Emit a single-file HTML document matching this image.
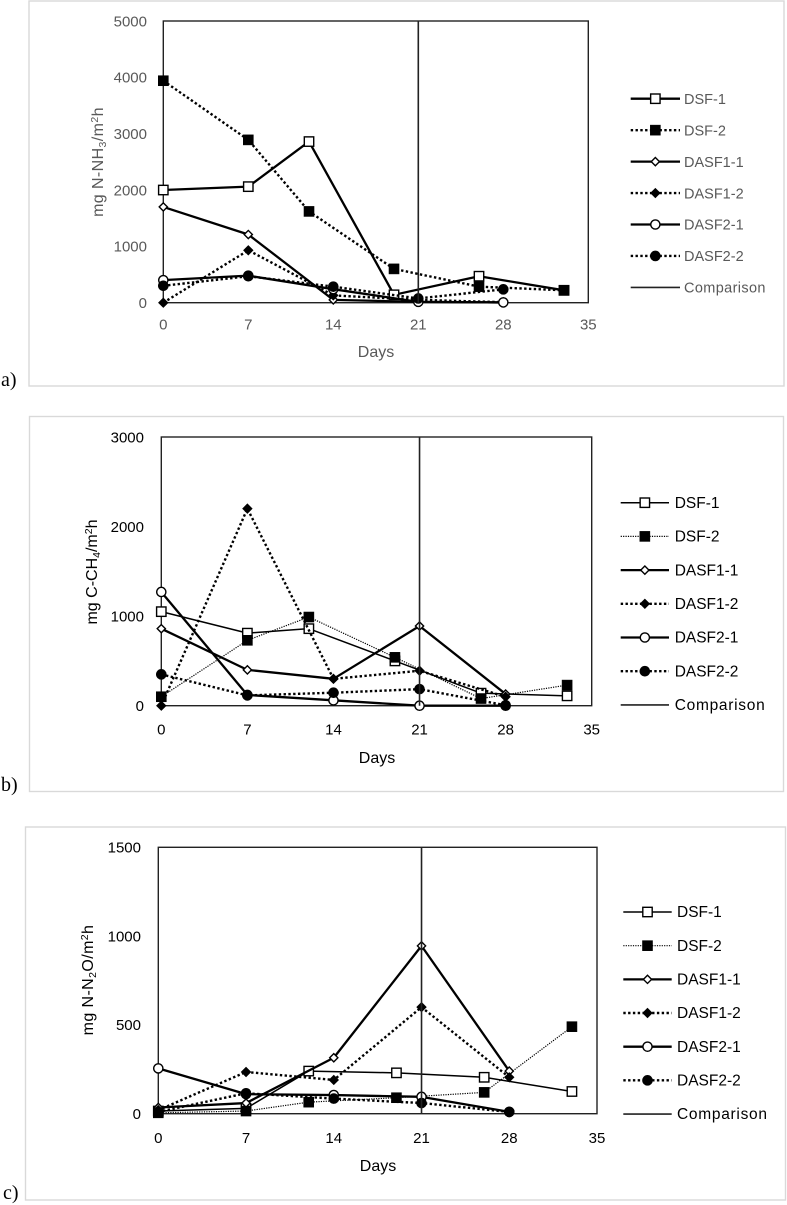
<!DOCTYPE html>
<html lang="en">
<head>
<meta charset="utf-8">
<title>Emission charts</title>
<style>
html,body{margin:0;padding:0;background:#fff;width:787px;height:1205px;overflow:hidden}
svg{display:block;filter:blur(0.3px)}
text{font-family:"Liberation Sans",sans-serif}
.lab{font-family:"Liberation Serif",serif;font-size:20px;fill:#000}
</style>
</head>
<body>
<svg id="root" xmlns="http://www.w3.org/2000/svg" width="787" height="1205" viewBox="0 0 787 1205">
  <rect x="29" y="1" width="755" height="385" fill="#fff" stroke="#d9d9d9" stroke-width="1.4"/>
  <rect x="29.5" y="416.5" width="754" height="375" fill="#fff" stroke="#d9d9d9" stroke-width="1.4"/>
  <rect x="25.5" y="827" width="760" height="373" fill="#fff" stroke="#d9d9d9" stroke-width="1.4"/>
  <text class="lab" x="1" y="386">a)</text>
  <text class="lab" x="1" y="791">b)</text>
  <text class="lab" x="3" y="1199">c)</text>
  <text transform="translate(103 162) rotate(-90)" text-anchor="middle" font-size="16" letter-spacing="0.4" fill="#595959">mg N-NH<tspan dy="3" font-size="10.5">3</tspan><tspan dy="-3">/m</tspan><tspan dy="-5" font-size="10.5">2</tspan><tspan dy="5">h</tspan></text>
  <text transform="translate(97 572) rotate(-90)" text-anchor="middle" font-size="16" fill="#000">mg C-CH<tspan dy="3" font-size="10.5">4</tspan><tspan dy="-3">/m</tspan><tspan dy="-5" font-size="10.5">2</tspan><tspan dy="5">h</tspan></text>
  <text transform="translate(93 980) rotate(-90)" text-anchor="middle" font-size="16" letter-spacing="0.4" fill="#000">mg N-N<tspan dy="3" font-size="10.5">2</tspan><tspan dy="-3">O/m</tspan><tspan dy="-5" font-size="10.5">2</tspan><tspan dy="5">h</tspan></text>
  <text x="376" y="357" text-anchor="middle" font-size="16" fill="#595959">Days</text>
  <text x="377" y="763" text-anchor="middle" font-size="16" fill="#000">Days</text>
  <text x="378" y="1171" text-anchor="middle" font-size="16" fill="#000">Days</text>
</svg>
<script>
const dayTicks = [0, 7, 14, 21, 28, 35];
const dsfDays = [0, 7, 12, 19, 26, 33];
const dasfDays = [0, 7, 14, 21, 28];
const comparisonDay = 21;
const seriesNames = ['DSF-1', 'DSF-2', 'DASF1-1', 'DASF1-2', 'DASF2-1', 'DASF2-2', 'Comparison'];

const ticksA = [0, 1000, 2000, 3000, 4000, 5000];
const aDsf1 = [2000, 2060, 2860, 140, 470, 220];
const aDsf2 = [3940, 2890, 1620, 600, 285, 220];
const aDasf11 = [1700, 1210, 50, 15, 5];
const aDasf12 = [0, 930, 130, 50, 10];
const aDasf21 = [400, 480, 240, 15, 5];
const aDasf22 = [300, 470, 285, 75, 237];

const ticksB = [0, 1000, 2000, 3000];
const bDsf1 = [1050, 810, 860, 500, 140, 110];
const bDsf2 = [100, 730, 990, 540, 80, 230];
const bDasf11 = [860, 400, 300, 890, 130];
const bDasf12 = [0, 2200, 300, 390, 100];
const bDasf21 = [1270, 120, 60, 0, 0];
const bDasf22 = [350, 115, 145, 185, 5];

const ticksC = [0, 500, 1000, 1500];
const cDsf1 = [15, 30, 240, 230, 205, 125];
const cDsf2 = [5, 15, 65, 90, 120, 490];
const cDasf11 = [35, 60, 315, 945, 240];
const cDasf12 = [20, 235, 190, 600, 205];
const cDasf21 = [255, 110, 105, 95, 10];
const cDasf22 = [10, 115, 85, 60, 10];

const NS = 'http://www.w3.org/2000/svg';
const root = document.getElementById('root');
function mk(tag, attrs, parent) {
  const el = document.createElementNS(NS, tag);
  for (const k in attrs) el.setAttribute(k, attrs[k]);
  parent.appendChild(el);
  return el;
}
function marker(kind, x, y, s, parent) {
  let el;
  const open = kind.endsWith('Open');
  const st = { fill: open ? '#fff' : '#000', stroke: '#000', 'stroke-width': open ? 1.4 : 0.6 };
  if (kind.startsWith('square')) {
    const w = open ? s.sqOpen : s.sq;
    el = mk('rect', Object.assign({ x: x - w / 2, y: y - w / 2, width: w, height: w }, st), parent);
  } else if (kind.startsWith('diamond')) {
    const d = open ? s.diOpen : s.di;
    el = mk('polygon', Object.assign({ points: (x - d) + ',' + y + ' ' + x + ',' + (y - d) + ' ' + (x + d) + ',' + y + ' ' + x + ',' + (y + d) }, st), parent);
  } else {
    el = mk('circle', Object.assign({ cx: x, cy: y, r: open ? s.ciOpen : s.ci }, st), parent);
  }
  return el;
}
function drawChart(cfg) {
  const sx = function (d) { return cfg.left + (d / 35) * (cfg.right - cfg.left); };
  const sy = function (v) { return cfg.bottom - (v / cfg.yMax) * (cfg.bottom - cfg.top); };
  const g = mk('g', {}, root);
  
  
  const box = mk('rect', { x: cfg.left, y: cfg.top, width: cfg.right - cfg.left, height: cfg.bottom - cfg.top, fill: 'none', stroke: '#222', 'stroke-width': 1.4 }, g);
  
  

  dayTicks.forEach(function (d) {
    const t = mk('text', { x: sx(d), y: cfg.tickY, 'text-anchor': 'middle', 'font-size': 15, fill: cfg.textColor }, g);
    t.textContent = d;
    
    
  });
  cfg.ticks.forEach(function (v) {
    const t = mk('text', { x: cfg.tickRight, y: sy(v) + 5.3, 'text-anchor': 'end', 'font-size': 15, fill: cfg.textColor }, g);
    t.textContent = v;
    
    
  });

  cfg.series.forEach(function (s, i) {
    const days = i < 2 ? dsfDays : dasfDays;
    const pts = s.values.map(function (v, j) { return sx(days[j]) + ',' + sy(v); }).join(' ');
    const line = mk('polyline', { points: pts, fill: 'none', stroke: '#000', 'stroke-width': s.w, 'stroke-dasharray': s.dash || 'none', 'stroke-linejoin': 'round' }, g);
    
    
    s.values.forEach(function (v, j) {
      const m = marker(s.kind, sx(days[j]), sy(v), cfg.sizes, g);
      
      
    });
  });

  const cmp = mk('line', { x1: sx(comparisonDay), x2: sx(comparisonDay), y1: cfg.top, y2: cfg.bottom, stroke: '#222', 'stroke-width': 1.6 }, g);
  
  

  seriesNames.forEach(function (name, i) {
    const y = cfg.legTop + i * cfg.legStep;
    const s = cfg.series[i];
    const entry = mk('g', {}, g);
    
    
    mk('line', { x1: cfg.legX1, x2: cfg.legX2, y1: y, y2: y, stroke: s ? '#000' : '#222', 'stroke-width': s ? s.w : 1.6, 'stroke-dasharray': s && s.dash ? s.dash : 'none' }, entry);
    if (s) marker(s.kind, (cfg.legX1 + cfg.legX2) / 2, y, cfg.sizes, entry);
    const t = mk('text', { x: cfg.legText, y: y + 5.2, 'font-size': cfg.legFont, fill: cfg.textColor }, entry);
    if (!s) t.setAttribute('textLength', cfg.cmpLen);
    t.textContent = name;
  });
}
const DOT = '2.4 2.4';
const FINE = '1.2 1.2';
const MARKS = { sq: 10, sqOpen: 9.4, di: 4.8, diOpen: 4.1, ci: 5, ciOpen: 4.6 };
drawChart({
  id: 'panel-a', left: 163.3, right: 588.3, top: 21, bottom: 302.7, yMax: 5000, ticks: ticksA,
  tickRight: 147, tickY: 329.5, textColor: '#595959',
  legX1: 630.7, legX2: 680, legText: 684, legTop: 98.7, legStep: 31.45, legFont: 14.5, cmpLen: 81.5,
  sizes: MARKS,
  series: [
    { values: aDsf1, kind: 'squareOpen', w: 2.3 },
    { values: aDsf2, kind: 'square', w: 2.4, dash: DOT },
    { values: aDasf11, kind: 'diamondOpen', w: 2.3 },
    { values: aDasf12, kind: 'diamond', w: 2.4, dash: DOT },
    { values: aDasf21, kind: 'circleOpen', w: 2.3 },
    { values: aDasf22, kind: 'circle', w: 2.4, dash: DOT }
  ]
});
drawChart({
  id: 'panel-b', left: 161.3, right: 591.7, top: 437, bottom: 705.7, yMax: 3000, ticks: ticksB,
  tickRight: 144, tickY: 734.5, textColor: '#000',
  legX1: 620.7, legX2: 669, legText: 674.7, legTop: 502.7, legStep: 33.7, legFont: 15.5, cmpLen: 90,
  sizes: MARKS,
  series: [
    { values: bDsf1, kind: 'squareOpen', w: 1.5 },
    { values: bDsf2, kind: 'square', w: 1.2, dash: FINE },
    { values: bDasf11, kind: 'diamondOpen', w: 2.3 },
    { values: bDasf12, kind: 'diamond', w: 2.4, dash: DOT },
    { values: bDasf21, kind: 'circleOpen', w: 2.3 },
    { values: bDasf22, kind: 'circle', w: 2.4, dash: DOT }
  ]
});
drawChart({
  id: 'panel-c', left: 158.3, right: 597, top: 847.3, bottom: 1113.7, yMax: 1500, ticks: ticksC,
  tickRight: 141, tickY: 1143, textColor: '#000',
  legX1: 623.3, legX2: 671.7, legText: 677, legTop: 912, legStep: 33.67, legFont: 15.5, cmpLen: 90,
  sizes: MARKS,
  series: [
    { values: cDsf1, kind: 'squareOpen', w: 1.5 },
    { values: cDsf2, kind: 'square', w: 1.2, dash: FINE },
    { values: cDasf11, kind: 'diamondOpen', w: 2.3 },
    { values: cDasf12, kind: 'diamond', w: 2.4, dash: DOT },
    { values: cDasf21, kind: 'circleOpen', w: 2.3 },
    { values: cDasf22, kind: 'circle', w: 2.4, dash: DOT }
  ]
});
</script>
</body>
</html>
